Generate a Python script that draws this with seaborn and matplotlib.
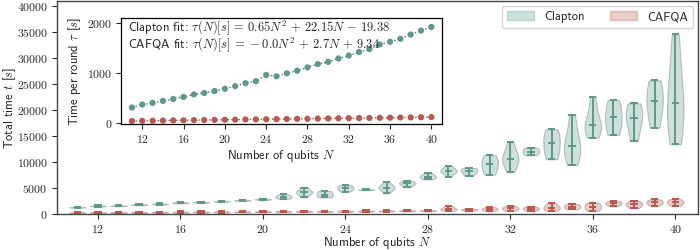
import matplotlib
matplotlib.use("Agg")
import matplotlib.pyplot as plt
from matplotlib.patches import Patch
import seaborn as sns
import pandas as pd
import numpy as np

# qubit counts
qubits = list(range(11, 41))

# total time samples per N [s]
clapton_times = [
    [1200, 1260, 1290, 1320, 1380],
    [1440, 1510, 1540, 1570, 1640],
    [1500, 1570, 1600, 1630, 1700],
    [1690, 1760, 1790, 1820, 1890],
    [1820, 1890, 1920, 1950, 2020],
    [2030, 2130, 2170, 2210, 2310],
    [2140, 2210, 2240, 2270, 2340],
    [2330, 2410, 2440, 2470, 2550],
    [2530, 2600, 2630, 2660, 2730],
    [2720, 2790, 2820, 2850, 2920],
    [2900, 3150, 3300, 3500, 3800],
    [3200, 3800, 4050, 4170, 4300, 4550, 5050],
    [3200, 3500, 3710, 4250, 4420],
    [4290, 4700, 5000, 5200, 5570],
    [4570, 4640, 4670, 4700, 4770],
    [3970, 4700, 4900, 5050, 5300, 5500, 6200],
    [5250, 5700, 5890, 6050, 6340],
    [6660, 7000, 7170, 7400, 7810],
    [7170, 7900, 8100, 8260, 8450, 8700, 9220],
    [7300, 7900, 8260, 8650, 8830],
    [7550, 8600, 9600, 10400, 11330],
    [8070, 9500, 10100, 10620, 11200, 12200, 13830],
    [11270, 11700, 11960, 12500, 12730],
    [10500, 12000, 13580, 15000, 16270],
    [9410, 11000, 12000, 13060, 14000, 16000, 19010],
    [14650, 15800, 16500, 17090, 18000, 20000, 22520],
    [15170, 16800, 18570, 20200, 21890],
    [14080, 17000, 18490, 20000, 21250],
    [16570, 19500, 21700, 23500, 25670],
    [13380, 16500, 19000, 21370, 24500, 29000, 34510],
]
cafqa_times = [
    [120, 200, 250, 300, 380],
    [140, 220, 270, 320, 400],
    [160, 240, 290, 340, 420],
    [180, 260, 310, 360, 440],
    [200, 280, 330, 380, 460],
    [230, 310, 360, 410, 490],
    [250, 330, 380, 430, 510],
    [270, 350, 400, 450, 530],
    [290, 370, 420, 470, 550],
    [310, 390, 440, 490, 570],
    [340, 420, 470, 520, 600],
    [360, 440, 490, 540, 620],
    [380, 460, 510, 560, 640],
    [410, 490, 540, 590, 670],
    [430, 510, 560, 610, 690],
    [460, 540, 590, 640, 720],
    [490, 570, 620, 670, 750],
    [520, 600, 650, 700, 780],
    [630, 850, 960, 1150, 1540],
    [630, 760, 830, 920, 1020],
    [630, 800, 960, 1100, 1340],
    [630, 900, 1090, 1300, 1600],
    [630, 850, 1020, 1200, 1400],
    [630, 1000, 1210, 1600, 2050],
    [900, 1200, 1400, 1650, 1920],
    [630, 1000, 1400, 1800, 2170],
    [1540, 1850, 2050, 2250, 2500],
    [1150, 1600, 1860, 2150, 2500],
    [1600, 2000, 2240, 2500, 2820],
    [1600, 2000, 2240, 2550, 2880],
]

# time per round [s] (inset)
clapton_tau = [310, 369, 402, 441, 481, 521, 572, 600, 639, 684, 737, 797, 836, 960, 935,
               994, 1045, 1112, 1177, 1223, 1290, 1349, 1420, 1479, 1572, 1625, 1684, 1769, 1848, 1921]
cafqa_tau = [40, 43, 45, 48, 52, 54, 57, 60, 62, 64, 67, 70, 72, 75, 77,
             80, 83, 85, 88, 91, 94, 96, 99, 101, 104, 107, 110, 112, 115, 118]

methods = ["Clapton", "CAFQA"]
green = "#5b9a8b"
red = "#bb574c"
colors = {"Clapton": green, "CAFQA": red}

clapton_fit = r"Clapton fit: $\tau(N)[s]\,=\,0.65N^2\,+\,22.15N\,-\,19.38$"
cafqa_fit = r"CAFQA fit: $\tau(N)[s]\,=\,-0.0N^2\,+\,2.7N\,+\,9.34$"

sns.set_style("ticks")
plt.rcParams["font.family"] = ["cmr10"]
plt.rcParams["mathtext.fontset"] = "cm"
plt.rcParams["axes.formatter.use_mathtext"] = True
plt.rcParams["axes.unicode_minus"] = False
SANS = "cmss10"
TICK = 8.5
LAB = 9

rows = []
for m, samples in zip(methods, [clapton_times, cafqa_times]):
    for n, vals in zip(qubits, samples):
        for v in vals:
            rows.append({"N": n, "t": v, "method": m})
df = pd.DataFrame(rows)

fig = plt.figure(figsize=(7, 2.5), dpi=100)
ax = fig.add_axes([0.081, 0.144, 0.916, 0.852])

sns.violinplot(data=df, x="N", y="t", hue="method", native_scale=True, dodge=False,
               cut=0, inner=None, density_norm="width", width=0.8, palette=colors,
               saturation=1, linewidth=0.8, alpha=0.3, ax=ax, legend=False)

# extrema bars and middle line
for m, samples in zip(methods, [clapton_times, cafqa_times]):
    mins = [min(v) for v in samples]
    maxs = [max(v) for v in samples]
    meds = [float(np.median(v)) for v in samples]
    c = colors[m]
    ax.vlines(qubits, mins, maxs, color=c, lw=1.4)
    for arr in (mins, maxs, meds):
        ax.hlines(arr, [q - 0.18 for q in qubits], [q + 0.18 for q in qubits], color=c, lw=1.4)

ax.set_xlim(10, 41.1)
ax.set_ylim(0, 40900)
ax.set_xticks(range(12, 41, 4))
ax.set_yticks(range(0, 40001, 5000))
ax.tick_params(labelsize=TICK, direction="out", length=3.5, width=0.8, pad=3)
ax.set_xlabel(r"Number of qubits $N$", family=SANS, fontsize=LAB, labelpad=0)
ax.set_ylabel(r"Total time $t$ [$s$]", family=SANS, fontsize=LAB)
ax.yaxis.set_label_coords(-0.06, 0.5)
for s in ax.spines.values():
    s.set_color("#444444")
    s.set_linewidth(1.0)

handles = [Patch(facecolor=colors[m], edgecolor=colors[m], alpha=0.3, label=m) for m in methods]
leg = ax.legend(handles=handles, loc="upper right", ncol=2, frameon=True,
                handlelength=2.2, columnspacing=2.0, borderaxespad=0.4,
                prop={"family": SANS, "size": LAB})
leg.get_frame().set_edgecolor("#cccccc")

# inset
ins = fig.add_axes([0.173, 0.504, 0.459, 0.424])
ins.plot(qubits, clapton_tau, ls=":", color="#666666", lw=1.0, zorder=1)
ins.plot(qubits, cafqa_tau, ls=":", color="#666666", lw=1.0, zorder=1)
sns.scatterplot(x=qubits, y=clapton_tau, color=green, s=20, edgecolor="none", ax=ins, zorder=2)
sns.scatterplot(x=qubits, y=cafqa_tau, color=red, s=20, edgecolor="none", ax=ins, zorder=2)
ins.set_xlim(9.95, 41.07)
ins.set_ylim(-20, 2100)
ins.set_xticks(range(12, 41, 4))
ins.set_yticks([0, 1000, 2000])
ins.tick_params(labelsize=TICK, direction="out", length=3.5, width=0.8, pad=3)
ins.set_xlabel(r"Number of qubits $N$", family=SANS, fontsize=LAB, labelpad=2)
ins.set_ylabel(r"Time per round $\tau$ [$s$]", family=SANS, fontsize=LAB, labelpad=3)
for s in ins.spines.values():
    s.set_color("black")
    s.set_linewidth(0.9)
ins.text(0.02, 0.91, clapton_fit, transform=ins.transAxes, family=SANS, fontsize=LAB, va="center")
ins.text(0.02, 0.745, cafqa_fit, transform=ins.transAxes, family=SANS, fontsize=LAB, va="center")

fig.savefig("out.png", dpi=100)
